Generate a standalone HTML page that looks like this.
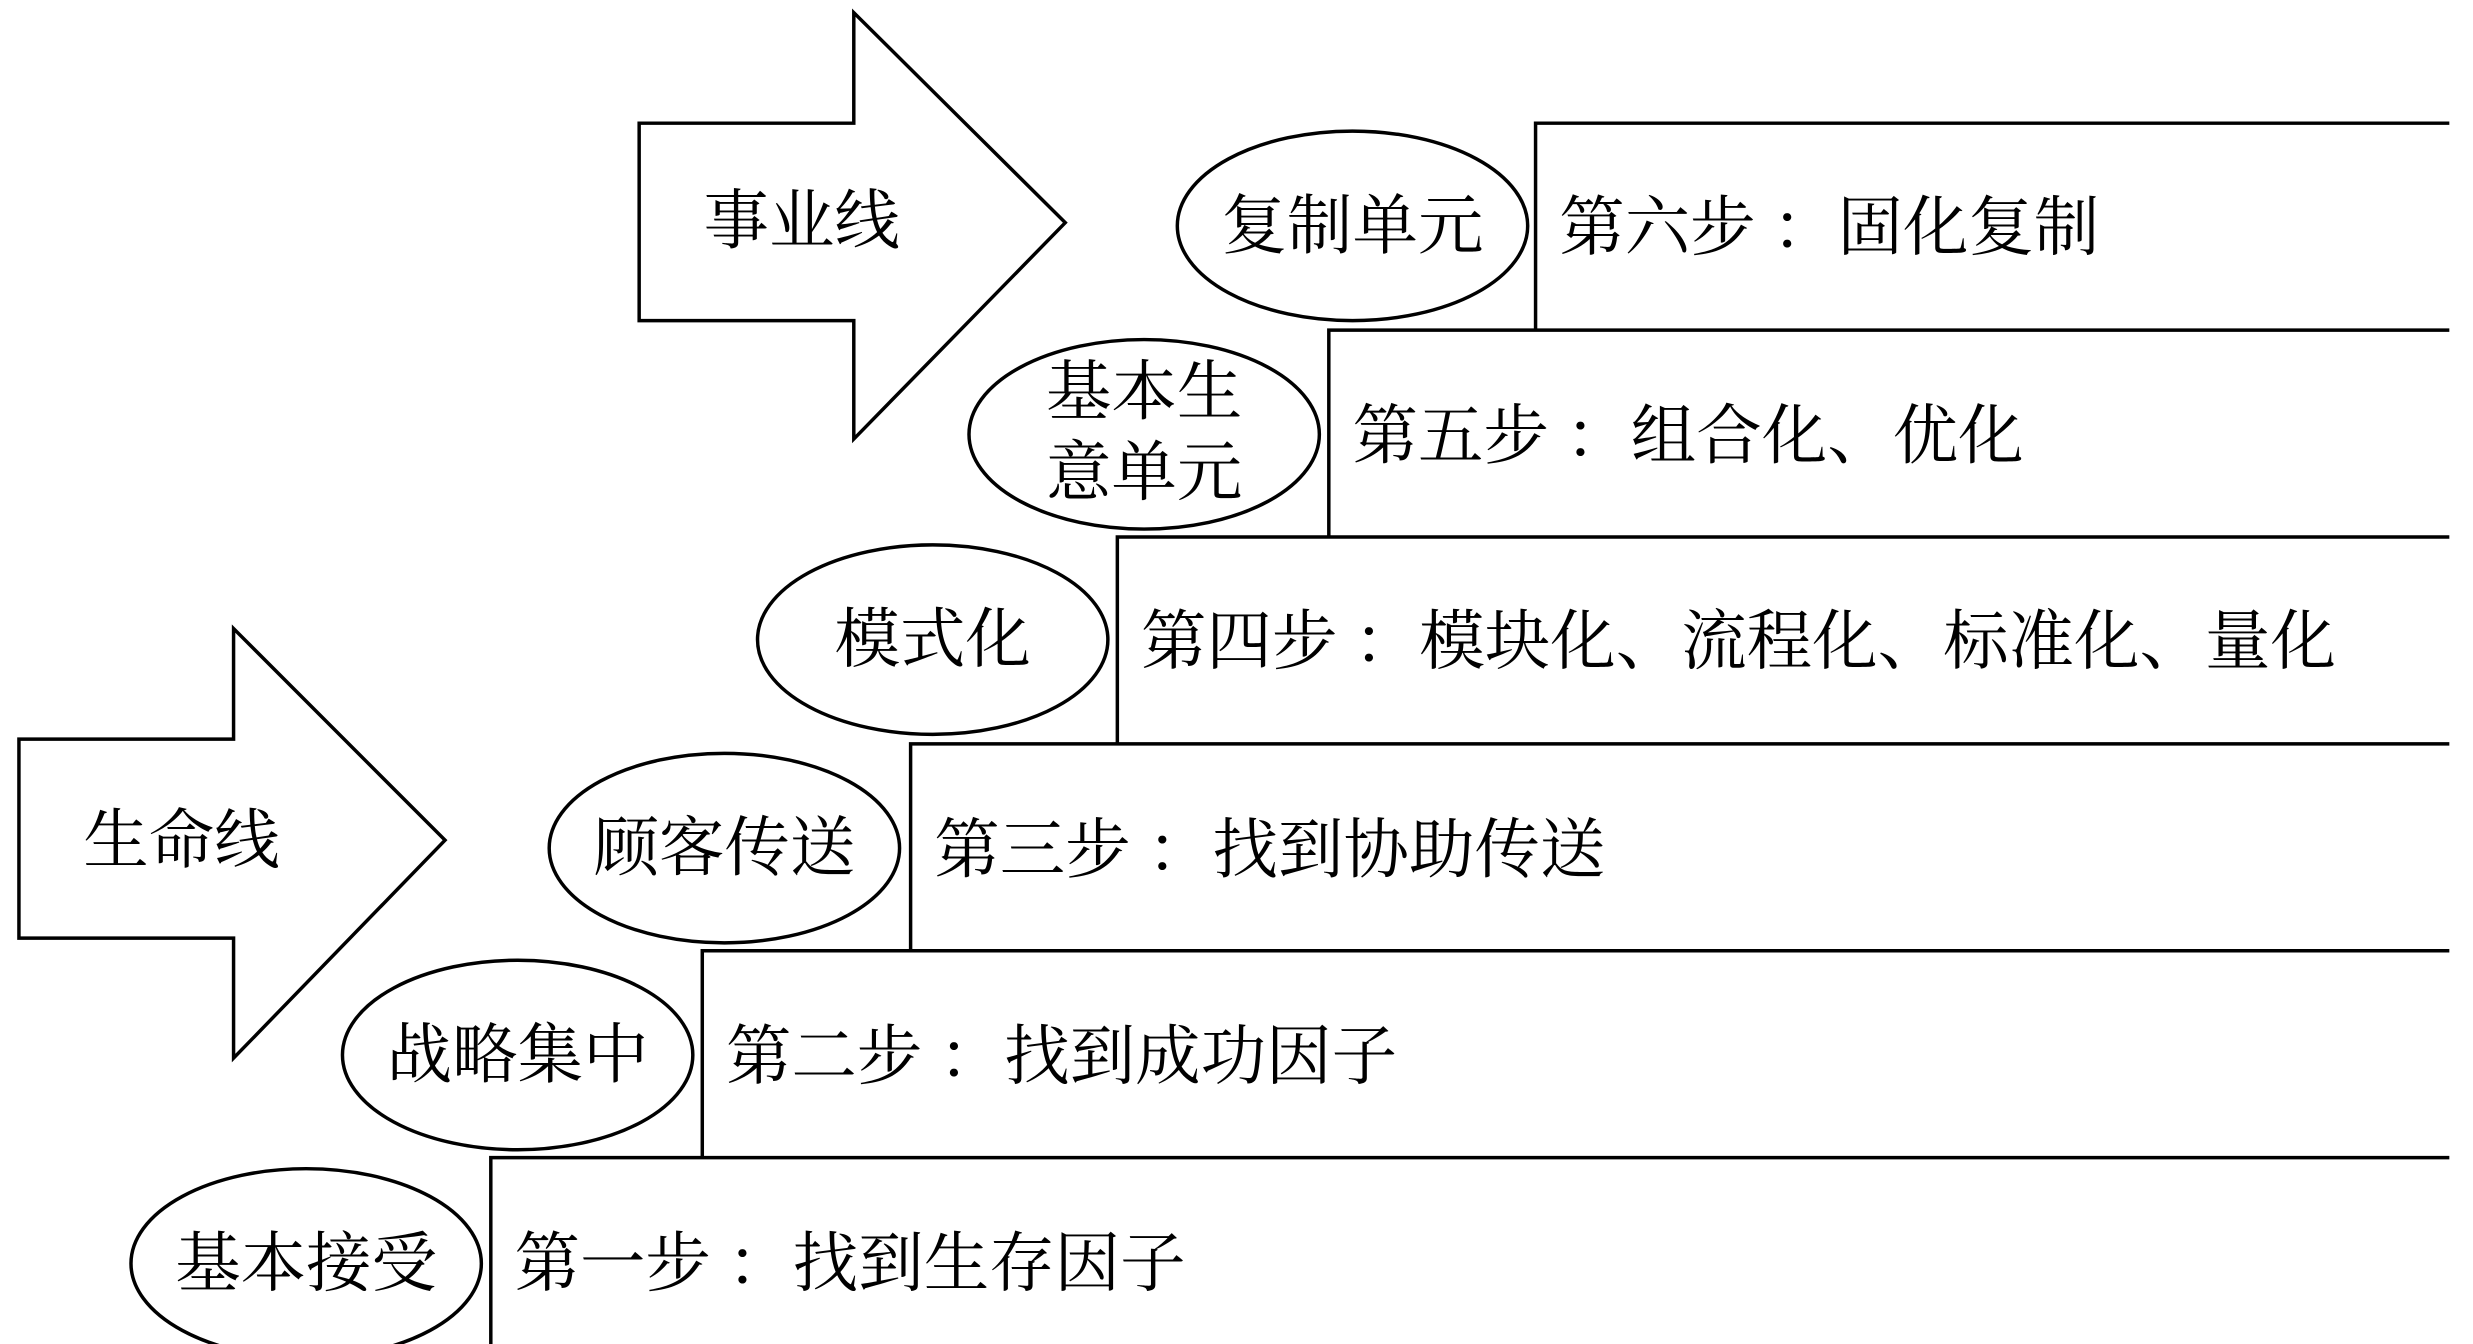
<!DOCTYPE html>
<html><head><meta charset="utf-8"><style>
html,body{margin:0;padding:0;background:#fff;}
svg{display:block;}
text{font-family:"Liberation Serif","Noto Serif CJK SC",serif;font-size:41.5px;fill:#000;}
</style></head><body>
<svg width="2473" height="1344" viewBox="0 0 1567 851" preserveAspectRatio="none" xmlns="http://www.w3.org/2000/svg">
<g fill="none" stroke="#000" stroke-width="2.2">
<polygon points="405,78 541,78 541,8 675,141 541,278 541,203 405,203" fill="#fff"/>
<polygon points="12,468 148,468 148,398 282,532 148,670 148,594 12,594" fill="#fff"/>
<polyline points="973,209 973,78 1552,78"/>
<polyline points="842,340 842,209 1552,209"/>
<polyline points="708,471 708,340 1552,340"/>
<polyline points="577,602 577,471 1552,471"/>
<polyline points="445,733 445,602 1552,602"/>
<polyline points="311,852 311,733 1552,733"/>
<ellipse cx="857" cy="143" rx="111" ry="60"/>
<ellipse cx="725" cy="275" rx="111" ry="60"/>
<ellipse cx="591" cy="405" rx="111" ry="60"/>
<ellipse cx="459" cy="537" rx="111" ry="60"/>
<ellipse cx="328" cy="668" rx="111" ry="60"/>
<ellipse cx="194" cy="800" rx="111" ry="60"/>
</g>
<g text-anchor="middle">
<text x="508" y="154">事业线</text>
<text x="115" y="546">生命线</text>
<text x="857" y="157">复制单元</text>
<text x="725" y="262">基本生</text>
<text x="725" y="313">意单元</text>
<text x="591" y="419">模式化</text>
<text x="459" y="551">顾客传送</text>
<text x="328" y="682">战略集中</text>
<text x="194" y="814">基本接受</text>
</g>
<text x="988" y="158">第六步 ：固化复制</text>
<text x="857" y="290">第五步 ：组合化、优化</text>
<text x="723" y="420">第四步 ：模块化、流程化、标准化、量化</text>
<text x="592" y="552">第三步 ：找到协助传送</text>
<text x="460" y="683">第二步 ：找到成功因子</text>
<text x="326" y="814">第一步 ：找到生存因子</text>
</svg>
</body></html>
